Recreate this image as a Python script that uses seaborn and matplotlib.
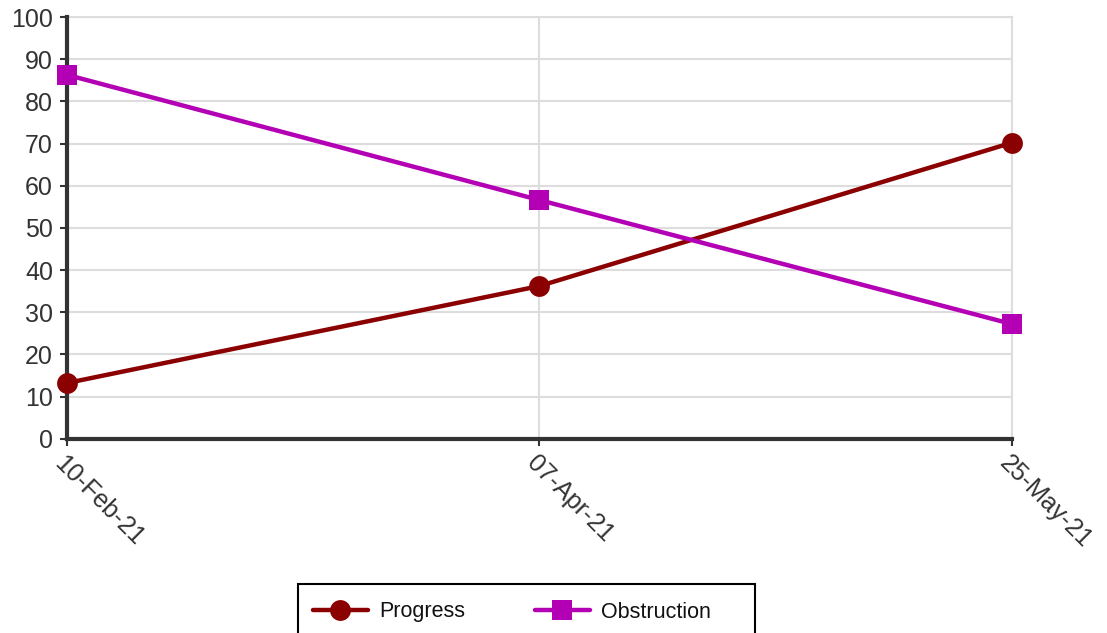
import matplotlib
matplotlib.use("Agg")
import matplotlib.pyplot as plt
from matplotlib.patches import Rectangle
import seaborn as sns
import pandas as pd

# Survey dates and measured percentages
dates = ["10-Feb-21", "07-Apr-21", "25-May-21"]
progress = [13.2, 36.2, 70.2]
obstruction = [86.3, 56.6, 27.2]
series_names = ["Progress", "Obstruction"]
y_ticks = list(range(0, 101, 10))

df = pd.DataFrame({
    "date": dates * 2,
    "value": progress + obstruction,
    "series": [series_names[0]] * len(dates) + [series_names[1]] * len(dates),
})

sns.set_theme(style="white")
plt.rcParams["font.family"] = ["Liberation Sans", "DejaVu Sans"]

fig = plt.figure(figsize=(11.07, 6.33), dpi=100)
ax = fig.add_axes([0.0605, 0.307, 0.8535, 0.666])

palette = {"Progress": "#8B0000", "Obstruction": "#B400B4"}
markers = {"Progress": "o", "Obstruction": "s"}

sns.lineplot(
    data=df, x="date", y="value", hue="series", style="series",
    hue_order=series_names, style_order=series_names,
    palette=palette, markers=markers, dashes=False,
    linewidth=3.2, markersize=15, markeredgewidth=0, sort=False,
    ax=ax, legend=True, zorder=5,
)
for line in ax.lines:
    line.set_clip_on(False)

ax.set_xlim(0, len(dates) - 1)
ax.set_ylim(0, 100)
ax.set_yticks(y_ticks)
ax.set_xlabel("")
ax.set_ylabel("")

# Grid and spines
ax.grid(True, color="#dddddd", linewidth=1.5)
ax.set_axisbelow(True)
for side in ("top", "right"):
    ax.spines[side].set_color("#dddddd")
    ax.spines[side].set_linewidth(1.5)
    ax.spines[side].set_zorder(0)
for side in ("left", "bottom"):
    ax.spines[side].set_color("#333333")
    ax.spines[side].set_linewidth(3)
    ax.spines[side].set_zorder(4)

ax.tick_params(axis="both", which="major", length=5, width=1.5, color="#333333",
               labelsize=18, labelcolor="#333333", left=True, bottom=True)
ax.tick_params(axis="y", pad=5)
ax.tick_params(axis="x", pad=4)
for lbl in ax.get_xticklabels():
    lbl.set_rotation(-45)
    lbl.set_ha("left")
    lbl.set_va("top")
    lbl.set_rotation_mode("anchor")

# Legend entries, with a separate box drawn around them
handles, labels = ax.get_legend_handles_labels()
ax.get_legend().remove()
leg = fig.legend(
    handles, labels, loc="center left", bbox_to_anchor=(313 / 1107, 1 - 612 / 633),
    ncol=2, fontsize=15.5, frameon=False, borderpad=0, borderaxespad=0,
    handlelength=2.55, columnspacing=3.2, handletextpad=0.55,
)
for t in leg.get_texts():
    t.set_color("#111111")
fig.patches.append(Rectangle(
    (298 / 1107, -0.05), (755 - 298) / 1107, 0.05 + 1 - 584 / 633,
    transform=fig.transFigure, fill=False, edgecolor="black", linewidth=1.5,
    clip_on=False,
))

fig.savefig("out.png", dpi=100)
